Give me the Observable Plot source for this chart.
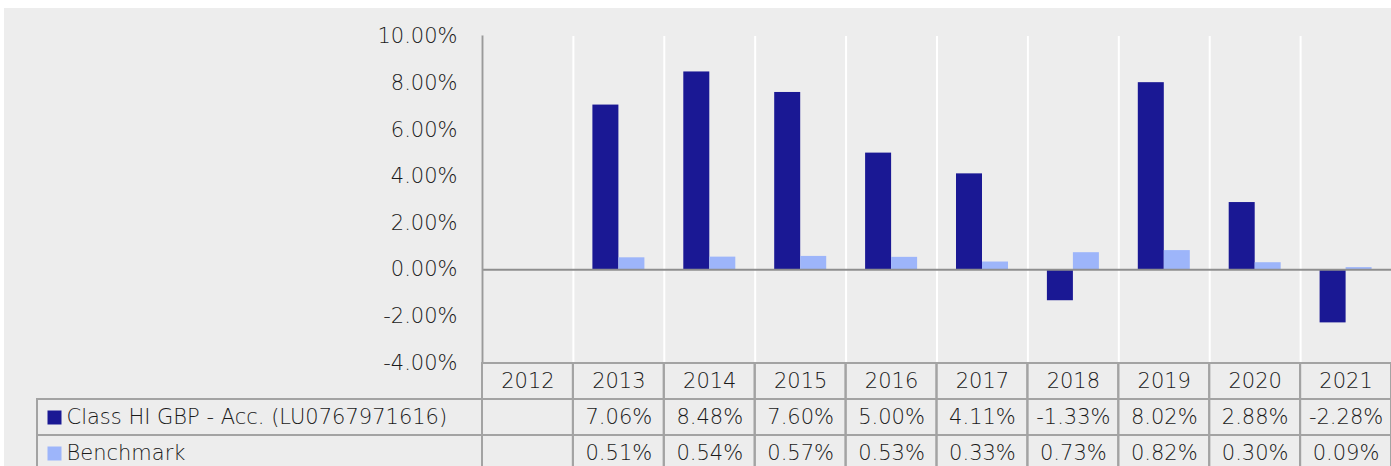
<!DOCTYPE html>
<html><head><meta charset="utf-8">
<script src="https://cdn.jsdelivr.net/npm/d3@7"></script>
<script src="https://cdn.jsdelivr.net/npm/@observablehq/plot@0.6"></script>
<style>
html,body{margin:0;padding:0;background:#fff;}
#wrap{position:relative;width:1391px;height:466px;overflow:hidden;}
#bg{position:absolute;left:4px;top:8px;right:0;bottom:0;background:#ededed;}
#chart,#table{position:absolute;left:0;}
#chart{top:0;}
#table{top:360.5px;}
svg{overflow:visible;}
</style></head><body>
<div id="wrap"><div id="bg"></div><div id="chart"></div><div id="table"></div></div>
<script>
const years = ["2012","2013","2014","2015","2016","2017","2018","2019","2020","2021"];
const fund  = [null, 7.06, 8.48, 7.60, 5.00, 4.11, -1.33, 8.02, 2.88, -2.28];
const bench = [null, 0.51, 0.54, 0.57, 0.53, 0.33, 0.73, 0.82, 0.30, 0.09];
const seriesNames = ["Class HI GBP - Acc. (LU0767971616)", "Benchmark"];
const rowKeys = ["year", "fund", "bench"];
const yTicks = [-4, -2, 0, 2, 4, 6, 8, 10];

const DARK = "#1a1894", LIGHT = "#9db5fa";
const TEXT = "#1a1a1a", FONT = "'DejaVu Sans', Inter, sans-serif";
const FS = 21;
const W = 1391, ML = 482, MR = 0;
const step = (W - ML - MR) / years.length;
const pct = v => v.toFixed(2) + "%";

const fundData = years.map((y, i) => ({year: y, value: fund[i]})).filter(d => d.value != null);
const benchData = years.map((y, i) => ({year: y, value: bench[i]})).filter(d => d.value != null);

const chart = Plot.plot({
  width: W, height: 466,
  marginLeft: ML, marginRight: MR, marginTop: 36, marginBottom: 103.5,
  style: {background: "transparent", fontFamily: FONT, fontSize: FS + "px", color: TEXT, fontWeight: 200},
  x: {domain: years, padding: 0, round: false, axis: null},
  y: {domain: [-4, 10], axis: null},
  marks: [
    Plot.gridX(years, {stroke: "#ffffff", strokeOpacity: 1, strokeWidth: 2, dx: -step / 2}),
    Plot.barY(fundData, {x: "year", y: "value", fill: DARK, insetLeft: 19.5, insetRight: step - 45.5}),
    Plot.barY(benchData, {x: "year", y: "value", fill: LIGHT, insetLeft: 45.5, insetRight: step - 71.5}),
    Plot.ruleY([0], {stroke: "#8e8e8e", strokeWidth: 2}),
    Plot.frame({anchor: "left", stroke: "#9a9a9a", strokeWidth: 2}),
    Plot.axisY({ticks: yTicks, tickSize: 0, tickPadding: 25, tickFormat: pct, label: null, fill: TEXT, fontSize: FS})
  ]
});
document.getElementById("chart").appendChild(chart);

const cellData = [];
rowKeys.forEach(r => years.forEach(y => cellData.push({row: r, year: y})));
const textData = [];
years.forEach((y, i) => {
  textData.push({row: "year", year: y, label: y});
  if (fund[i] != null) textData.push({row: "fund", year: y, label: pct(fund[i])});
  if (bench[i] != null) textData.push({row: "bench", year: y, label: pct(bench[i])});
});
const legendData = [
  {row: "fund", name: seriesNames[0], color: DARK},
  {row: "bench", name: seriesNames[1], color: LIGHT}
];

const table = Plot.plot({
  width: W, height: 112,
  marginLeft: ML, marginRight: MR, marginTop: 2, marginBottom: 2,
  style: {background: "transparent", fontFamily: FONT, fontSize: FS + "px", color: TEXT, fontWeight: 200},
  x: {domain: years, padding: 0, round: false, axis: null},
  y: {domain: rowKeys, padding: 0, round: false, axis: null},
  marks: [
    Plot.cell(cellData, {x: "year", y: "row", fill: "none", stroke: "#a3a3a3", strokeWidth: 2}),
    Plot.cell(legendData, {y: "row", fill: "none", stroke: "#a3a3a3", strokeWidth: 2, insetLeft: -(ML - 37)}),
    Plot.text(textData, {x: "year", y: "row", text: "label", fill: TEXT, fontSize: FS}),
    Plot.dot(legendData, {y: "row", frameAnchor: "left", dx: 54 - ML, symbol: "square", r: 7.9, fill: "color", stroke: null}),
    Plot.text(legendData, {y: "row", frameAnchor: "left", dx: 66 - ML, text: "name", textAnchor: "start", fill: TEXT, fontSize: FS})
  ]
});
document.getElementById("table").appendChild(table);
</script>
</body></html>
